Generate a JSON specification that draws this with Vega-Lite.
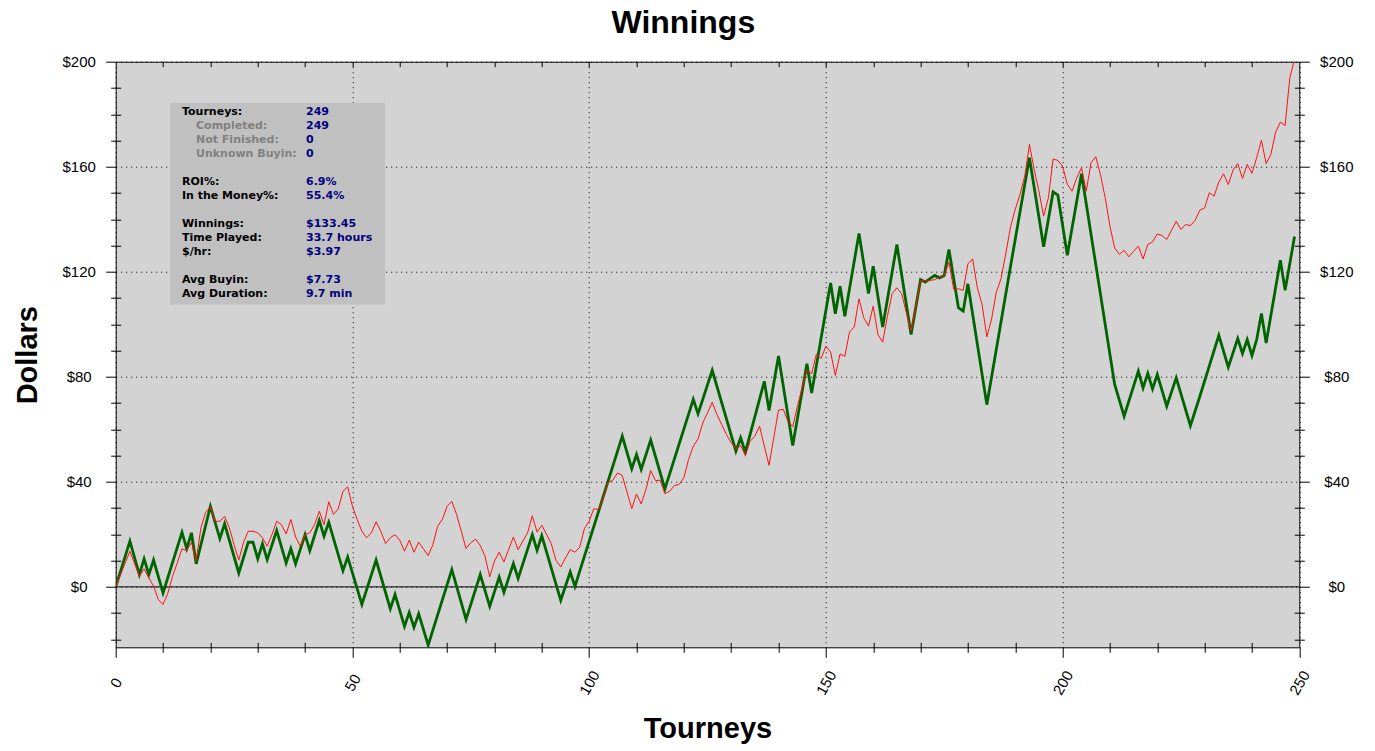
{
  "$schema": "https://vega.github.io/schema/vega-lite/v6.json",
  "description": "Cumulative tournament winnings over 249 tourneys, with a second (red) series.",
  "autosize": "none",
  "width": 1183.6,
  "height": 585.6,
  "padding": {"left": 115.7, "top": 61.7, "right": 75.7, "bottom": 103.7},
  "background": "white",
  "title": {
    "text": "Winnings",
    "font": "Liberation Sans",
    "fontSize": 32,
    "fontWeight": "bold",
    "color": "black",
    "anchor": "middle",
    "frame": "bounds",
    "baseline": "alphabetic",
    "offset": -10
  },
  "config": {
    "view": {"fill": "#d3d3d3", "stroke": "black", "strokeWidth": 1},
    "axis": {
      "tickColor": "black",
      "labelColor": "black",
      "labelFont": "Liberation Sans",
      "labelFontSize": 15,
      "titleColor": "black",
      "labelFlush": false,
      "labelOverlap": false,
      "gridColor": "black",
      "gridOpacity": 1,
      "gridDash": [1, 4],
      "gridWidth": 1
    },
    "text": {"font": "DejaVu Sans", "fontSize": 11, "fontWeight": "bold", "align": "left", "baseline": "top", "lineHeight": 14}
  },
  "datasets": {
    "winnings": [
      {"t": 0, "v": 0}, {"t": 3, "v": 17.4}, {"t": 5, "v": 4.7}, {"t": 6, "v": 10.7}, {"t": 7, "v": 4.7},
      {"t": 8, "v": 10.2}, {"t": 10, "v": -2.3}, {"t": 14, "v": 20.8}, {"t": 15, "v": 14.6}, {"t": 16, "v": 20.6},
      {"t": 17, "v": 8.8}, {"t": 20, "v": 30.7}, {"t": 22, "v": 18.4}, {"t": 23, "v": 24}, {"t": 26, "v": 5.3},
      {"t": 28, "v": 17}, {"t": 29, "v": 17}, {"t": 30, "v": 10.7}, {"t": 31, "v": 16.4}, {"t": 32, "v": 10.4},
      {"t": 34, "v": 21.5}, {"t": 36, "v": 9.1}, {"t": 37, "v": 14.6}, {"t": 38, "v": 8.8}, {"t": 40, "v": 19.9},
      {"t": 41, "v": 13.8}, {"t": 43, "v": 25.3}, {"t": 44, "v": 19.3}, {"t": 45, "v": 24.6}, {"t": 48, "v": 6.2},
      {"t": 49, "v": 11.4}, {"t": 52, "v": -6.7}, {"t": 55, "v": 10.2}, {"t": 58, "v": -8.3}, {"t": 59, "v": -2.9},
      {"t": 61, "v": -15}, {"t": 62, "v": -9.7}, {"t": 63, "v": -15.4}, {"t": 64, "v": -10.2}, {"t": 66, "v": -22.2},
      {"t": 71, "v": 6.6}, {"t": 74, "v": -12.4}, {"t": 77, "v": 4.7}, {"t": 79, "v": -7.4}, {"t": 81, "v": 3.7},
      {"t": 82, "v": -2.1}, {"t": 84, "v": 8.9}, {"t": 85, "v": 3.2}, {"t": 88, "v": 19.9}, {"t": 89, "v": 13.9},
      {"t": 90, "v": 19.5}, {"t": 94, "v": -5.1}, {"t": 96, "v": 5.7}, {"t": 97, "v": 0.2}, {"t": 107, "v": 57.4},
      {"t": 109, "v": 45}, {"t": 110, "v": 50.4}, {"t": 111, "v": 44.7}, {"t": 113, "v": 55.9}, {"t": 116, "v": 37.3},
      {"t": 122, "v": 71.4}, {"t": 123, "v": 65.9}, {"t": 126, "v": 82.5}, {"t": 131, "v": 51.7}, {"t": 132, "v": 56.8},
      {"t": 133, "v": 51.3}, {"t": 137, "v": 78.3}, {"t": 138, "v": 67.2}, {"t": 140, "v": 87.9}, {"t": 143, "v": 53.8},
      {"t": 146, "v": 85}, {"t": 147, "v": 73.8}, {"t": 151, "v": 115.7}, {"t": 152, "v": 104}, {"t": 153, "v": 114.5},
      {"t": 154, "v": 103.1}, {"t": 157, "v": 134.6}, {"t": 159, "v": 111.7}, {"t": 160, "v": 122.1}, {"t": 162, "v": 99},
      {"t": 165, "v": 130.4}, {"t": 168, "v": 96.1}, {"t": 170, "v": 117}, {"t": 171, "v": 116.1}, {"t": 172, "v": 117.4},
      {"t": 173, "v": 118.6}, {"t": 174, "v": 117.7}, {"t": 175, "v": 118.6}, {"t": 176, "v": 128.5}, {"t": 178, "v": 106.3},
      {"t": 179, "v": 105}, {"t": 180, "v": 115.4}, {"t": 184, "v": 69.4}, {"t": 189, "v": 122}, {"t": 193, "v": 163.4},
      {"t": 196, "v": 129.5}, {"t": 198, "v": 150.4}, {"t": 199, "v": 149.2}, {"t": 201, "v": 126.3}, {"t": 204, "v": 157.3},
      {"t": 211, "v": 77.1}, {"t": 213, "v": 65}, {"t": 216, "v": 82.2}, {"t": 217, "v": 75.8}, {"t": 218, "v": 81.3},
      {"t": 219, "v": 75.4}, {"t": 220, "v": 80.9}, {"t": 222, "v": 68.8}, {"t": 224, "v": 79.6}, {"t": 227, "v": 61.4},
      {"t": 229, "v": 72.6}, {"t": 233, "v": 95.8}, {"t": 235, "v": 83.7}, {"t": 237, "v": 94.6}, {"t": 238, "v": 88.9},
      {"t": 239, "v": 94.2}, {"t": 240, "v": 88.1}, {"t": 241, "v": 94.2}, {"t": 242, "v": 104.1}, {"t": 243, "v": 92.9},
      {"t": 246, "v": 124.4}, {"t": 247, "v": 113}, {"t": 249, "v": 133.45}
    ],
    "second": [
      {"t": 0, "v": 0}, {"t": 3, "v": 13.6}, {"t": 5, "v": 4}, {"t": 6, "v": 6.9}, {"t": 7, "v": 3.4},
      {"t": 8, "v": 0.3}, {"t": 9, "v": -4.8}, {"t": 10, "v": -6.7}, {"t": 11, "v": -2.5}, {"t": 12, "v": 4},
      {"t": 13, "v": 9.1}, {"t": 14, "v": 14.5}, {"t": 15, "v": 13.8}, {"t": 16, "v": 17}, {"t": 17, "v": 10},
      {"t": 18, "v": 22.5}, {"t": 19, "v": 28.4}, {"t": 20, "v": 30.5}, {"t": 21, "v": 25}, {"t": 22, "v": 25},
      {"t": 23, "v": 26.9}, {"t": 24, "v": 22.5}, {"t": 25, "v": 16.1}, {"t": 26, "v": 10.2}, {"t": 27, "v": 17},
      {"t": 28, "v": 21.2}, {"t": 29, "v": 21.2}, {"t": 30, "v": 20.6}, {"t": 31, "v": 18.7}, {"t": 32, "v": 15.5},
      {"t": 33, "v": 19.9}, {"t": 34, "v": 25}, {"t": 35, "v": 23.7}, {"t": 36, "v": 20.2}, {"t": 37, "v": 25.7},
      {"t": 38, "v": 19}, {"t": 39, "v": 15.5}, {"t": 40, "v": 19.9}, {"t": 41, "v": 20.6}, {"t": 42, "v": 23.7},
      {"t": 43, "v": 28.8}, {"t": 44, "v": 23.7}, {"t": 45, "v": 32.4}, {"t": 46, "v": 27.6}, {"t": 47, "v": 29.7},
      {"t": 48, "v": 36.4}, {"t": 49, "v": 38.1}, {"t": 50, "v": 30.7}, {"t": 51, "v": 25.7}, {"t": 52, "v": 21.2},
      {"t": 53, "v": 18.7}, {"t": 54, "v": 20.6}, {"t": 55, "v": 24.8}, {"t": 56, "v": 21.2}, {"t": 57, "v": 16.5},
      {"t": 58, "v": 18.7}, {"t": 59, "v": 19.9}, {"t": 60, "v": 17.8}, {"t": 61, "v": 13.6}, {"t": 62, "v": 17.8},
      {"t": 63, "v": 13.2}, {"t": 64, "v": 17}, {"t": 66, "v": 11.9}, {"t": 67, "v": 16.1}, {"t": 68, "v": 23.1},
      {"t": 69, "v": 25.7}, {"t": 70, "v": 30.7}, {"t": 71, "v": 32.6}, {"t": 72, "v": 27.6}, {"t": 73, "v": 21.2},
      {"t": 74, "v": 14.6}, {"t": 75, "v": 16.8}, {"t": 76, "v": 18.2}, {"t": 77, "v": 15.8}, {"t": 78, "v": 11.7},
      {"t": 79, "v": 3.8}, {"t": 80, "v": 9.8}, {"t": 81, "v": 13.2}, {"t": 82, "v": 9.5}, {"t": 84, "v": 19},
      {"t": 85, "v": 14.2}, {"t": 87, "v": 20.6}, {"t": 88, "v": 27.1}, {"t": 89, "v": 20.9}, {"t": 90, "v": 23.5},
      {"t": 92, "v": 16.5}, {"t": 93, "v": 10.1}, {"t": 94, "v": 7.6}, {"t": 95, "v": 11}, {"t": 96, "v": 14.2},
      {"t": 97, "v": 13.2}, {"t": 98, "v": 15.1}, {"t": 99, "v": 22.2}, {"t": 100, "v": 25}, {"t": 101, "v": 29.8},
      {"t": 102, "v": 29.4}, {"t": 103, "v": 33.9}, {"t": 104, "v": 39.8}, {"t": 105, "v": 40.6}, {"t": 106, "v": 43.4},
      {"t": 107, "v": 42.4}, {"t": 109, "v": 29.8}, {"t": 110, "v": 35.4}, {"t": 111, "v": 31.6}, {"t": 112, "v": 37.1},
      {"t": 113, "v": 44.3}, {"t": 114, "v": 40.5}, {"t": 115, "v": 40.6}, {"t": 116, "v": 35.5}, {"t": 117, "v": 36.4},
      {"t": 118, "v": 38.6}, {"t": 119, "v": 39}, {"t": 120, "v": 41.5}, {"t": 121, "v": 48.5}, {"t": 122, "v": 53.6},
      {"t": 123, "v": 56.3}, {"t": 124, "v": 62.4}, {"t": 125, "v": 66.3}, {"t": 126, "v": 70.3}, {"t": 127, "v": 65.6},
      {"t": 128, "v": 61.8}, {"t": 129, "v": 58}, {"t": 130, "v": 54.9}, {"t": 131, "v": 52.6}, {"t": 132, "v": 53.8},
      {"t": 133, "v": 50}, {"t": 134, "v": 55.5}, {"t": 135, "v": 57.4}, {"t": 136, "v": 61.2}, {"t": 137, "v": 53.6},
      {"t": 138, "v": 46.3}, {"t": 140, "v": 67.3}, {"t": 141, "v": 67.6}, {"t": 142, "v": 63.1}, {"t": 143, "v": 61},
      {"t": 144, "v": 68.9}, {"t": 145, "v": 75.9}, {"t": 146, "v": 82.5}, {"t": 147, "v": 81.2}, {"t": 148, "v": 88.7},
      {"t": 149, "v": 87}, {"t": 150, "v": 91.7}, {"t": 151, "v": 89.4}, {"t": 152, "v": 80.5}, {"t": 153, "v": 88.7},
      {"t": 154, "v": 87.8}, {"t": 155, "v": 97.1}, {"t": 156, "v": 99}, {"t": 157, "v": 109.7}, {"t": 158, "v": 102.5},
      {"t": 159, "v": 99.3}, {"t": 160, "v": 106.9}, {"t": 161, "v": 96.1}, {"t": 162, "v": 93.2}, {"t": 163, "v": 103.1},
      {"t": 164, "v": 111.7}, {"t": 165, "v": 113.9}, {"t": 166, "v": 111.7}, {"t": 167, "v": 104.4}, {"t": 168, "v": 97.4},
      {"t": 170, "v": 116.7}, {"t": 171, "v": 116.4}, {"t": 172, "v": 116.7}, {"t": 173, "v": 117}, {"t": 174, "v": 118},
      {"t": 175, "v": 118.6}, {"t": 176, "v": 123.7}, {"t": 177, "v": 113.3}, {"t": 178, "v": 113.5}, {"t": 179, "v": 112.9},
      {"t": 180, "v": 123}, {"t": 181, "v": 124.9}, {"t": 182, "v": 113.9}, {"t": 183, "v": 107.5}, {"t": 184, "v": 95.2},
      {"t": 185, "v": 102}, {"t": 186, "v": 112.2}, {"t": 187, "v": 117.4}, {"t": 188, "v": 126.9}, {"t": 189, "v": 137.1},
      {"t": 190, "v": 143.8}, {"t": 191, "v": 149.4}, {"t": 192, "v": 156.4}, {"t": 193, "v": 168.5}, {"t": 194, "v": 159},
      {"t": 195, "v": 150.7}, {"t": 196, "v": 141.2}, {"t": 197, "v": 148.2}, {"t": 198, "v": 163}, {"t": 199, "v": 162.4},
      {"t": 200, "v": 160.2}, {"t": 201, "v": 153.3}, {"t": 202, "v": 150.7}, {"t": 203, "v": 155.8}, {"t": 204, "v": 159.6},
      {"t": 205, "v": 150.7}, {"t": 206, "v": 161.5}, {"t": 207, "v": 163.8}, {"t": 208, "v": 157}, {"t": 209, "v": 148.2},
      {"t": 210, "v": 137.4}, {"t": 211, "v": 129.1}, {"t": 212, "v": 126.6}, {"t": 213, "v": 128.2}, {"t": 214, "v": 125.7},
      {"t": 215, "v": 127.8}, {"t": 216, "v": 129.8}, {"t": 217, "v": 124.9}, {"t": 218, "v": 130.4}, {"t": 219, "v": 131.4},
      {"t": 220, "v": 134.4}, {"t": 221, "v": 133.8}, {"t": 222, "v": 132.3}, {"t": 223, "v": 135.8}, {"t": 224, "v": 139.2},
      {"t": 225, "v": 136.1}, {"t": 226, "v": 138}, {"t": 227, "v": 137.6}, {"t": 228, "v": 139.6}, {"t": 229, "v": 143.5},
      {"t": 230, "v": 144.3}, {"t": 231, "v": 150.1}, {"t": 232, "v": 148.8}, {"t": 233, "v": 154.2}, {"t": 234, "v": 157.3},
      {"t": 235, "v": 153.2}, {"t": 236, "v": 158.7}, {"t": 237, "v": 161.2}, {"t": 238, "v": 155.5}, {"t": 239, "v": 160.9},
      {"t": 240, "v": 157.5}, {"t": 241, "v": 163.5}, {"t": 242, "v": 170.1}, {"t": 243, "v": 161.2}, {"t": 244, "v": 164.7},
      {"t": 245, "v": 173.2}, {"t": 246, "v": 177}, {"t": 247, "v": 175.7}, {"t": 248, "v": 193.9}, {"t": 249, "v": 201}
    ]
  },
  "resolve": {"axis": {"x": "independent", "y": "independent"}},
  "layer": [
    {
      "data": {"values": [{}]},
      "mark": {"type": "rule", "color": "black", "strokeWidth": 1},
      "encoding": {
        "x": {
          "datum": 0, "type": "quantitative",
          "scale": {"domain": [0, 250], "nice": false, "zero": false},
          "axis": {
            "orient": "top", "values": [10, 20, 30, 40, 50, 60, 70, 80, 90, 100, 110, 120, 130, 140, 150, 160, 170, 180, 190, 200, 210, 220, 230, 240],
            "tickSize": 5, "offset": -5, "labels": false, "domain": false, "grid": false, "title": null
          }
        },
        "x2": {"datum": 250},
        "y": {
          "datum": 0, "type": "quantitative",
          "scale": {"domain": [-23, 200], "nice": false, "zero": false},
          "axis": {
            "orient": "right", "values": [0, 40, 80, 120, 160, 200], "format": "$.0f",
            "tickSize": 10, "domain": false, "grid": false, "title": null,
            "labelAlign": "center", "labelBaseline": "middle", "labelPadding": 27
          }
        }
      }
    },
    {
      "data": {"values": [{}]},
      "mark": {"type": "rect", "color": "#c0c0c0"},
      "encoding": {
        "x": {"datum": 11.47, "type": "quantitative", "scale": {"domain": [0, 250], "nice": false, "zero": false}, "axis": null},
        "x2": {"datum": 56.89},
        "y": {
          "datum": 184.4, "type": "quantitative",
          "scale": {"domain": [-23, 200], "nice": false, "zero": false},
          "axis": {
            "orient": "right", "values": [-20, -10, 10, 20, 30, 50, 60, 70, 90, 100, 110, 130, 140, 150, 170, 180, 190],
            "tickSize": 10, "offset": -5, "labels": false, "domain": false, "grid": false, "title": null
          }
        },
        "y2": {"datum": 107.5}
      }
    },
    {
      "data": {"name": "winnings"},
      "mark": {"type": "line", "color": "#006400", "strokeWidth": 2.8, "clip": true},
      "encoding": {
        "x": {
          "field": "t", "type": "quantitative",
          "scale": {"domain": [0, 250], "nice": false, "zero": false},
          "axis": {
            "orient": "bottom", "values": [0, 50, 100, 150, 200, 250],
            "tickSize": 10, "domain": false, "grid": true,
            "labelAngle": -60, "labelAlign": "center", "labelBaseline": "middle", "labelPadding": 25,
            "title": "Tourneys", "titleFont": "Liberation Sans", "titleFontSize": 29, "titleFontWeight": "bold",
            "titleY": 81, "titleBaseline": "middle"
          }
        },
        "y": {
          "field": "v", "type": "quantitative",
          "scale": {"domain": [-23, 200], "nice": false, "zero": false},
          "axis": {
            "orient": "left", "values": [0, 40, 80, 120, 160, 200], "format": "$.0f",
            "tickSize": 10, "domain": false, "grid": true,
            "labelAlign": "center", "labelBaseline": "middle", "labelPadding": 27,
            "title": "Dollars", "titleFont": "Liberation Sans", "titleFontSize": 29, "titleFontWeight": "bold",
            "titleAngle": -90, "titleX": -88, "titleY": 293, "titleAlign": "center", "titleBaseline": "middle"
          }
        }
      }
    },
    {
      "data": {"name": "second"},
      "mark": {"type": "line", "color": "#ff1010", "strokeWidth": 1, "clip": true},
      "encoding": {
        "x": {
          "field": "t", "type": "quantitative",
          "scale": {"domain": [0, 250], "nice": false, "zero": false},
          "axis": {
            "orient": "bottom", "values": [10, 20, 30, 40, 60, 70, 80, 90, 110, 120, 130, 140, 160, 170, 180, 190, 210, 220, 230, 240],
            "tickSize": 10, "offset": -5, "labels": false, "domain": false, "grid": false, "title": null
          }
        },
        "y": {
          "field": "v", "type": "quantitative",
          "scale": {"domain": [-23, 200], "nice": false, "zero": false},
          "axis": {
            "orient": "left", "values": [-20, -10, 10, 20, 30, 50, 60, 70, 90, 100, 110, 130, 140, 150, 170, 180, 190],
            "tickSize": 10, "offset": -5, "labels": false, "domain": false, "grid": false, "title": null
          }
        }
      }
    },
    {
      "data": {"values": [{}]},
      "mark": {"type": "text", "color": "black", "text": ["Tourneys:"]},
      "encoding": {
        "x": {"datum": 14.0, "type": "quantitative", "scale": {"domain": [0, 250], "nice": false, "zero": false}, "axis": null},
        "y": {"datum": 183.28, "type": "quantitative", "scale": {"domain": [-23, 200], "nice": false, "zero": false}, "axis": null}
      }
    },
    {
      "data": {"values": [{}]},
      "mark": {"type": "text", "color": "#808080", "text": ["Completed:", "Not Finished:", "Unknown Buyin:"]},
      "encoding": {
        "x": {"datum": 16.96, "type": "quantitative", "scale": {"domain": [0, 250], "nice": false, "zero": false}, "axis": null},
        "y": {"datum": 177.95, "type": "quantitative", "scale": {"domain": [-23, 200], "nice": false, "zero": false}, "axis": null}
      }
    },
    {
      "data": {"values": [{}]},
      "mark": {"type": "text", "color": "black", "text": ["ROI%:", "In the Money%:"]},
      "encoding": {
        "x": {"datum": 14.0, "type": "quantitative", "scale": {"domain": [0, 250], "nice": false, "zero": false}, "axis": null},
        "y": {"datum": 156.63, "type": "quantitative", "scale": {"domain": [-23, 200], "nice": false, "zero": false}, "axis": null}
      }
    },
    {
      "data": {"values": [{}]},
      "mark": {"type": "text", "color": "black", "text": ["Winnings:", "Time Played:", "$/hr:"]},
      "encoding": {
        "x": {"datum": 14.0, "type": "quantitative", "scale": {"domain": [0, 250], "nice": false, "zero": false}, "axis": null},
        "y": {"datum": 140.63, "type": "quantitative", "scale": {"domain": [-23, 200], "nice": false, "zero": false}, "axis": null}
      }
    },
    {
      "data": {"values": [{}]},
      "mark": {"type": "text", "color": "black", "text": ["Avg Buyin:", "Avg Duration:"]},
      "encoding": {
        "x": {"datum": 14.0, "type": "quantitative", "scale": {"domain": [0, 250], "nice": false, "zero": false}, "axis": null},
        "y": {"datum": 119.31, "type": "quantitative", "scale": {"domain": [-23, 200], "nice": false, "zero": false}, "axis": null}
      }
    },
    {
      "data": {"values": [{}]},
      "mark": {"type": "text", "color": "#000080", "text": ["249", "249", "0", "0"]},
      "encoding": {
        "x": {"datum": 40.2, "type": "quantitative", "scale": {"domain": [0, 250], "nice": false, "zero": false}, "axis": null},
        "y": {"datum": 183.28, "type": "quantitative", "scale": {"domain": [-23, 200], "nice": false, "zero": false}, "axis": null}
      }
    },
    {
      "data": {"values": [{}]},
      "mark": {"type": "text", "color": "#000080", "text": ["6.9%", "55.4%"]},
      "encoding": {
        "x": {"datum": 40.2, "type": "quantitative", "scale": {"domain": [0, 250], "nice": false, "zero": false}, "axis": null},
        "y": {"datum": 156.63, "type": "quantitative", "scale": {"domain": [-23, 200], "nice": false, "zero": false}, "axis": null}
      }
    },
    {
      "data": {"values": [{}]},
      "mark": {"type": "text", "color": "#000080", "text": ["$133.45", "33.7 hours", "$3.97"]},
      "encoding": {
        "x": {"datum": 40.2, "type": "quantitative", "scale": {"domain": [0, 250], "nice": false, "zero": false}, "axis": null},
        "y": {"datum": 140.63, "type": "quantitative", "scale": {"domain": [-23, 200], "nice": false, "zero": false}, "axis": null}
      }
    },
    {
      "data": {"values": [{}]},
      "mark": {"type": "text", "color": "#000080", "text": ["$7.73", "9.7 min"]},
      "encoding": {
        "x": {"datum": 40.2, "type": "quantitative", "scale": {"domain": [0, 250], "nice": false, "zero": false}, "axis": null},
        "y": {"datum": 119.31, "type": "quantitative", "scale": {"domain": [-23, 200], "nice": false, "zero": false}, "axis": null}
      }
    }
  ]
}
